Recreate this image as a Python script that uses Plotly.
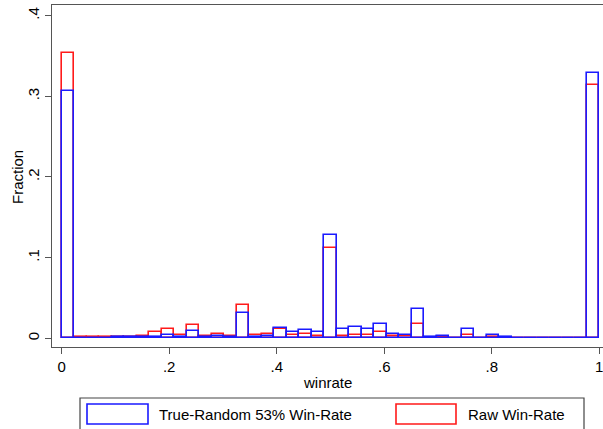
import plotly.graph_objects as go

# Histogram of win rates: 43 equal-width bins on [0, 1], heights are fractions
n_bins = 43
bin_width = 1.0 / n_bins
bin_centers = [(i + 0.5) * bin_width for i in range(n_bins)]

true_random_frac = [
    0.307, 0.0003, 0.0003, 0.0005, 0.001, 0.001, 0.001, 0.0015, 0.0037, 0.001,
    0.0088, 0.002, 0.0025, 0.001, 0.0315, 0.0015, 0.0033, 0.0129, 0.0079, 0.0105,
    0.0078, 0.128, 0.0112, 0.0136, 0.0115, 0.0174, 0.0057, 0.0037, 0.036, 0.001,
    0.0033, 0.0005, 0.0112, 0.0005, 0.0045, 0.0012, 0.0005, 0.0003, 0.0003, 0.0003,
    0.0003, 0.0003, 0.3293,
]
raw_frac = [
    0.3534, 0.0012, 0.0012, 0.002, 0.002, 0.002, 0.0032, 0.0078, 0.0115, 0.004,
    0.017, 0.0025, 0.0055, 0.003, 0.0414, 0.0042, 0.005, 0.0112, 0.004, 0.0056,
    0.0029, 0.1123, 0.0029, 0.0045, 0.0037, 0.0082, 0.0025, 0.0027, 0.0181, 0.0008,
    0.0012, 0.0003, 0.0045, 0.0003, 0.0021, 0.0005, 0.0003, 0.0005, 0.0003, 0.0003,
    0.0003, 0.0005, 0.3137,
]

x_ticks = [0, 0.2, 0.4, 0.6, 0.8, 1]
x_tick_text = ["0", ".2", ".4", ".6", ".8", "1"]
y_ticks = [0, 0.1, 0.2, 0.3, 0.4]
y_tick_text = ["0", ".1", ".2", ".3", ".4"]

series_names = ["True-Random 53% Win-Rate", "Raw Win-Rate"]
BLUE = "#1a1aff"
RED = "#ff1a1a"

W, H = 603, 429
L, R, T, B = 52, 0, 5, 82
FONT = "Liberation Sans, Arial, sans-serif"
FS = 15

fig = go.Figure()
# raw rates underneath, true-random outlines on top
for vals, color, name in [(raw_frac, RED, series_names[1]),
                          (true_random_frac, BLUE, series_names[0])]:
    fig.add_trace(go.Bar(
        x=bin_centers, y=vals, width=bin_width, name=name,
        marker=dict(color="rgba(0,0,0,0)", line=dict(color=color, width=1.6)),
        showlegend=False,
    ))

def px_x(p):
    return (p - L) / (W - L - R)

def px_y(p):
    return (H - B - p) / (H - T - B)

shapes = []
annotations = []

# legend frame and keys
shapes.append(dict(type="rect", xref="paper", yref="paper",
                   x0=px_x(80), x1=px_x(584), y0=px_y(432), y1=px_y(398),
                   line=dict(color="#444", width=1.2), fillcolor="white"))
for (kx0, kx1), color, name, tx in [((87, 148), BLUE, series_names[0], 157),
                                     ((396, 456), RED, series_names[1], 466)]:
    shapes.append(dict(type="rect", xref="paper", yref="paper",
                       x0=px_x(kx0), x1=px_x(kx1), y0=px_y(424), y1=px_y(404),
                       line=dict(color=color, width=1.6)))
    annotations.append(dict(text=name, xref="paper", yref="paper",
                            x=px_x(tx), y=px_y(414), xanchor="left", yanchor="middle",
                            showarrow=False, font=dict(size=FS, color="black", family=FONT)))

annotations.append(dict(text="winrate", xref="paper", yref="paper",
                        x=px_x(327), y=px_y(382), xanchor="center", yanchor="middle",
                        showarrow=False, font=dict(size=FS, color="black", family=FONT)))
annotations.append(dict(text="Fraction", xref="paper", yref="paper",
                        x=px_x(17), y=px_y(177), xanchor="center", yanchor="middle",
                        textangle=-90, showarrow=False,
                        font=dict(size=FS, color="black", family=FONT)))

fig.update_layout(
    width=W, height=H,
    margin=dict(l=L, r=R, t=T, b=B, pad=0),
    paper_bgcolor="white", plot_bgcolor="white",
    barmode="overlay", bargap=0,
    font=dict(family=FONT, size=FS, color="black"),
    shapes=shapes, annotations=annotations,
    xaxis=dict(range=[-0.018, 1.0069], tickvals=x_ticks, ticktext=x_tick_text,
               ticks="outside", ticklen=6, tickcolor="#555", tickwidth=1,
               ticklabeloverflow="allow",
               showline=True, linecolor="#555", linewidth=1.2, mirror=True,
               showgrid=False, zeroline=False, tickfont=dict(size=FS)),
    yaxis=dict(range=[-0.0108, 0.4132], tickvals=y_ticks, ticktext=y_tick_text,
               ticks="outside", ticklen=6, tickcolor="#555", tickwidth=1,
               tickangle=-90, ticklabeloverflow="allow",
               showline=True, linecolor="#555", linewidth=1.2, mirror=True,
               showgrid=False, zeroline=False, tickfont=dict(size=FS)),
)

fig.write_html("out.html")
